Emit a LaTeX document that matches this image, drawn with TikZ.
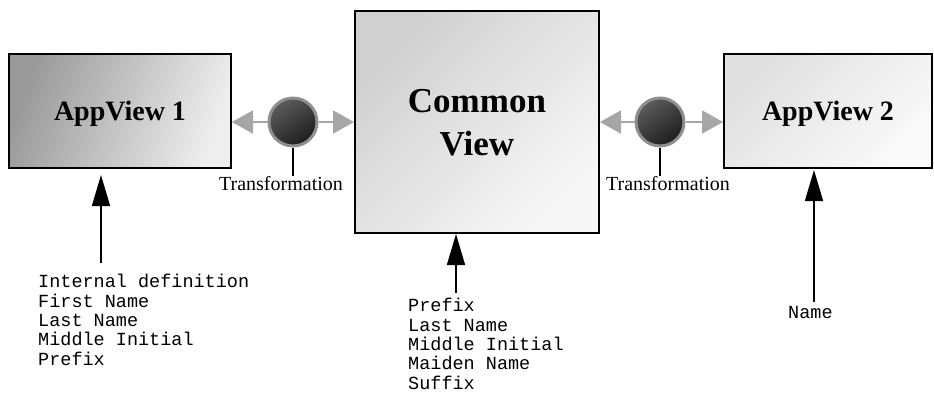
\documentclass[tikz,border=0pt]{standalone}
\usepackage{fontspec}
\setmainfont{Liberation Serif}
\setmonofont{Liberation Mono}
\usetikzlibrary{arrows.meta}
\definecolor{boxA1}{HTML}{9A9A9A}
\definecolor{boxA2}{HTML}{EEEEEE}
\definecolor{boxC1}{HTML}{D0D0D0}
\definecolor{boxC2}{HTML}{F7F7F7}
\definecolor{boxB1}{HTML}{E0E0E0}
\definecolor{boxB2}{HTML}{FAFAFA}
\definecolor{ringgray}{HTML}{8E8E8E}
\definecolor{balltop}{HTML}{5C5C5C}
\definecolor{ballbot}{HTML}{1C1C1C}
\definecolor{linkgray}{HTML}{A6A6A6}
\begin{document}
\begin{tikzpicture}[x=1pt,y=-1pt,
  viewbox/.style={draw=black, line width=2pt, inner sep=0pt, shading=axis, text depth=0pt},
  smalllabel/.style={font=\fontsize{28}{30}\selectfont\bfseries},
  biglabel/.style={font=\fontsize{35}{43}\selectfont\bfseries, align=center},
  ball/.style={circle, minimum size=48pt, inner sep=0pt, draw=ringgray, line width=3pt,
    shading=axis, top color=balltop, bottom color=ballbot, shading angle=35},
  glink/.style={draw=linkgray, line width=2pt, -{Triangle[length=21pt,width=23pt,fill=linkgray]}},
  tlabel/.style={font=\fontsize{20}{22}\selectfont, inner sep=0pt},
  tick/.style={draw=black, line width=1.4pt},
  barrow/.style={draw=black, line width=1.5pt, -{Triangle[length=31pt,width=18pt]}},
  listtext/.style={font=\fontsize{18.5}{19.3}\selectfont\ttfamily, align=left, inner sep=0pt}
]
\useasboundingbox (0,0) rectangle (934,392);

% boxes
\node[viewbox, smalllabel, top color=boxA1, bottom color=boxA2, shading angle=70,
      minimum width=222pt, minimum height=114pt] (b1) at (120,111) {AppView 1};
\node[viewbox, biglabel, top color=boxC1, bottom color=boxC2, shading angle=45,
      minimum width=244pt, minimum height=222pt] (cv) at (477,122) {Common\\View};
\node[viewbox, smalllabel, top color=boxB1, bottom color=boxB2, shading angle=45,
      minimum width=208pt, minimum height=114pt] (b2) at (828,111) {AppView 2};

% transformation balls
\node[ball] (c1) at (293,122) {};
\node[ball] (c2) at (660,122) {};

\draw[glink] (c1.west) -- (c1.west -| b1.east);
\draw[glink] (c1.east) -- (c1.east -| cv.west);
\draw[glink] (c2.west) -- (c2.west -| cv.east);
\draw[glink] (c2.east) -- (c2.east -| b2.west);

\node[tlabel, anchor=base] (tr1) at (281,190) {Transformation};
\node[tlabel, anchor=base] (tr2) at (668,190) {Transformation};
\draw[tick] (c1.south) -- (c1.south |- tr1.north);
\draw[tick] (c2.south) -- (c2.south |- tr2.north);

% definition lists (base anchor = baseline of the last line)
\node[listtext, anchor=base west] (l1) at (38,365) {Internal definition\\First Name\\Last Name\\Middle Initial\\Prefix};
\node[listtext, anchor=base west] (l2) at (408,389) {Prefix\\Last Name\\Middle Initial\\Maiden Name\\Suffix};
\node[listtext, anchor=base west] (l3) at (788,318) {Name};

\coordinate (a1) at (101,263);
\coordinate (a2) at (456,293);
\coordinate (a3) at (814,302);
\draw[barrow, shorten >=6pt] (a1) -- (a1 |- b1.south);
\draw[barrow] (a2) -- (a2 |- cv.south);
\draw[barrow, shorten >=1pt] (a3) -- (a3 |- b2.south);
\end{tikzpicture}
\end{document}
